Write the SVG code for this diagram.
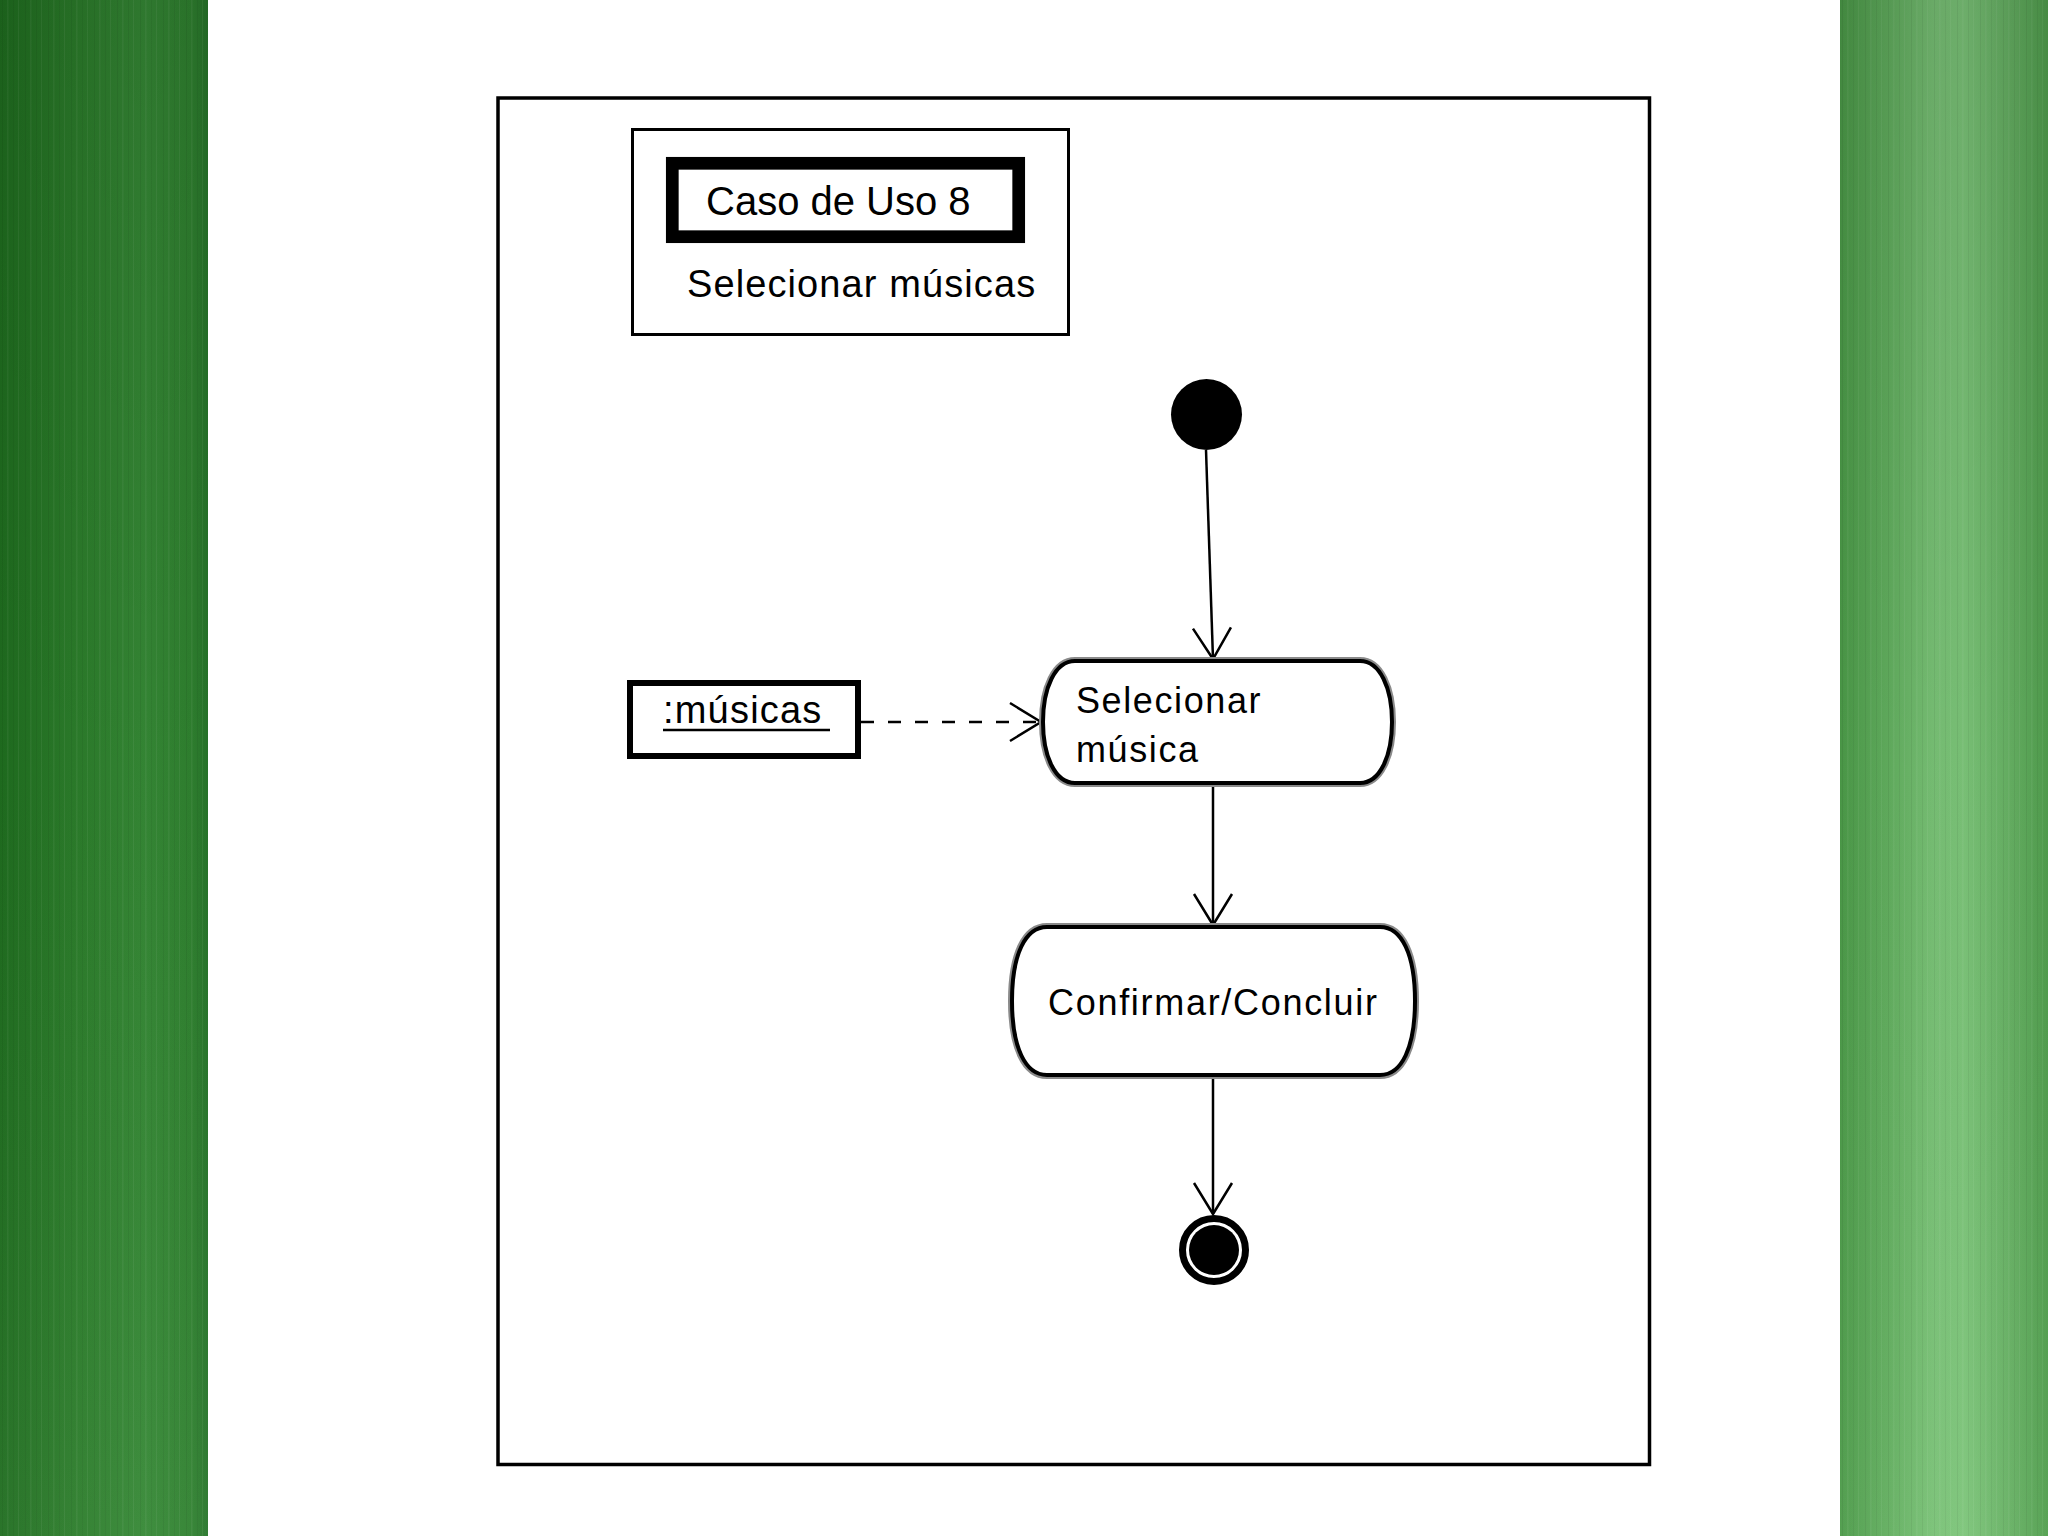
<svg xmlns="http://www.w3.org/2000/svg" width="2048" height="1536" viewBox="0 0 2048 1536">
<style>
.t{font-family:"Liberation Sans",Arial,sans-serif;fill:#000}
.ln{stroke:#000;stroke-width:2.5;fill:none}
.act-sh{fill:none;stroke:#8a8a8a;stroke-width:8}
.act{fill:#fff;stroke:#000;stroke-width:4}
</style>
<defs>
<linearGradient id="gL" x1="0" y1="0" x2="1" y2="0">
<stop offset="0" stop-color="#1f6d1f"/>
<stop offset="0.35" stop-color="#2b7c2a"/>
<stop offset="0.7" stop-color="#358835"/>
<stop offset="0.92" stop-color="#2f812f"/>
<stop offset="1" stop-color="#27752a"/>
</linearGradient>
<linearGradient id="gR" x1="0" y1="0" x2="1" y2="0">
<stop offset="0" stop-color="#4b9a48"/>
<stop offset="0.2" stop-color="#5eab5b"/>
<stop offset="0.45" stop-color="#78c175"/>
<stop offset="0.6" stop-color="#7bc478"/>
<stop offset="0.85" stop-color="#62ad5f"/>
<stop offset="1" stop-color="#509e4d"/>
</linearGradient>
<linearGradient id="gV" x1="0" y1="0" x2="0" y2="1">
<stop offset="0" stop-color="#000" stop-opacity="0.12"/>
<stop offset="0.5" stop-color="#000" stop-opacity="0.03"/>
<stop offset="1" stop-color="#fff" stop-opacity="0.05"/>
</linearGradient>
<pattern id="streaks" width="23" height="1536" patternUnits="userSpaceOnUse">
<rect x="2" width="1" height="1536" fill="#000" opacity="0.06"/>
<rect x="7" width="1.5" height="1536" fill="#fff" opacity="0.05"/>
<rect x="13" width="1" height="1536" fill="#000" opacity="0.05"/>
<rect x="18" width="1" height="1536" fill="#fff" opacity="0.06"/>
</pattern>
<marker id="arr" markerUnits="userSpaceOnUse" markerWidth="40" markerHeight="44" viewBox="-36 -22 40 44" refX="0" refY="0" orient="auto">
<path d="M-31,-19 L0,0 L-31,19" fill="none" stroke="#000" stroke-width="2.5"/>
</marker>
</defs>

<g id="background">
<rect width="2048" height="1536" fill="#fff"/>
<rect x="0" y="0" width="208" height="1536" fill="url(#gL)"/>
<rect x="0" y="0" width="208" height="1536" fill="url(#streaks)"/>
<rect x="0" y="0" width="208" height="1536" fill="url(#gV)"/>
<rect x="1840" y="0" width="208" height="1536" fill="url(#gR)"/>
<rect x="1840" y="0" width="208" height="1536" fill="url(#streaks)"/>
<rect x="1840" y="0" width="208" height="1536" fill="url(#gV)"/>
</g>

<g id="frame">
<rect x="498" y="98" width="1151.5" height="1366.5" fill="#fff" stroke="#000" stroke-width="3.5"/>
</g>

<g id="title">
<rect x="632.5" y="129.5" width="436" height="205" fill="none" stroke="#000" stroke-width="3"/>
<rect x="672.3" y="163.3" width="346.4" height="73.4" fill="none" stroke="#000" stroke-width="12.7"/>
<text class="t" x="706" y="215" font-size="40">Caso de Uso 8</text>
<text class="t" x="687" y="297" font-size="38" letter-spacing="1.1">Selecionar músicas</text>
</g>

<g id="connectors">
<line class="ln" x1="1206" y1="450" x2="1213" y2="659" marker-end="url(#arr)"/>
<line class="ln" x1="861" y1="722" x2="1041" y2="722" stroke-dasharray="13 14" marker-end="url(#arr)"/>
<line class="ln" x1="1213" y1="785" x2="1213" y2="925" marker-end="url(#arr)"/>
<line class="ln" x1="1213" y1="1077" x2="1213" y2="1214" marker-end="url(#arr)"/>
</g>

<g id="initial">
<circle cx="1206.5" cy="414.5" r="35.5" fill="#000"/>
</g>

<g id="obj-musicas">
<rect x="630" y="683" width="228" height="73" fill="#fff" stroke="#000" stroke-width="6"/>
<text class="t" x="663" y="723" font-size="38" letter-spacing="1.2">:músicas</text>
<line x1="663" y1="730" x2="830" y2="730" stroke="#000" stroke-width="2.5"/>
</g>

<g id="act-selecionar">
<path class="act-sh" d="M1075 661 H1360 C1380 661 1392 688 1392 722 C1392 756 1380 783 1360 783 H1075 C1055 783 1043 756 1043 722 C1043 688 1055 661 1075 661 Z"/>
<path class="act" d="M1075 661 H1360 C1380 661 1392 688 1392 722 C1392 756 1380 783 1360 783 H1075 C1055 783 1043 756 1043 722 C1043 688 1055 661 1075 661 Z"/>
<text class="t" x="1076" y="713" font-size="36" letter-spacing="1.6">Selecionar</text>
<text class="t" x="1076" y="762" font-size="36" letter-spacing="1.6">música</text>
</g>

<g id="act-confirmar">
<path class="act-sh" d="M1047 927 H1380 C1402 927 1415 955 1415 1001 C1415 1047 1402 1075 1380 1075 H1047 C1025 1075 1012 1047 1012 1001 C1012 955 1025 927 1047 927 Z"/>
<path class="act" d="M1047 927 H1380 C1402 927 1415 955 1415 1001 C1415 1047 1402 1075 1380 1075 H1047 C1025 1075 1012 1047 1012 1001 C1012 955 1025 927 1047 927 Z"/>
<text class="t" x="1048" y="1015" font-size="36" letter-spacing="1.7">Confirmar/Concluir</text>
</g>

<g id="final">
<circle cx="1214" cy="1250" r="31.5" fill="#fff" stroke="#000" stroke-width="7"/>
<circle cx="1214" cy="1250" r="25" fill="#000"/>
</g>
</svg>
